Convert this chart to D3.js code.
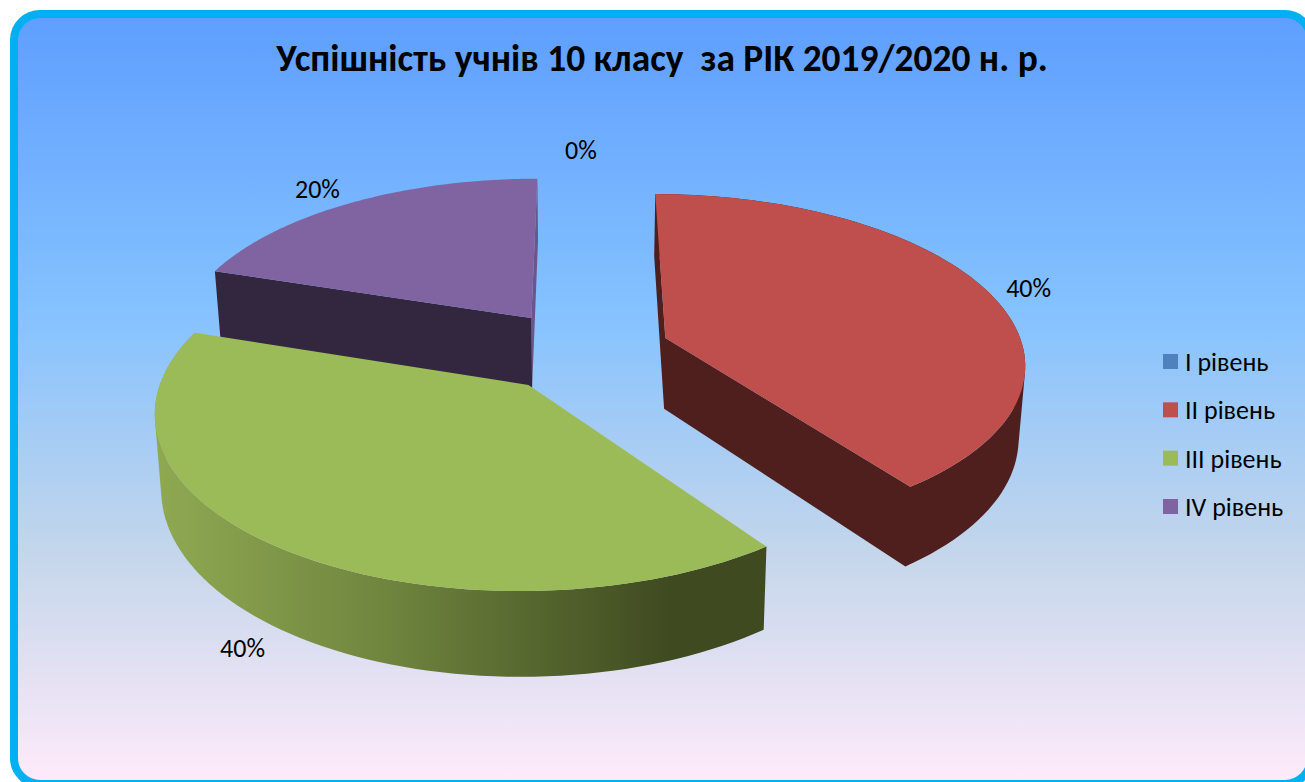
<!DOCTYPE html>
<html><head><meta charset="utf-8">
<script src="https://cdn.jsdelivr.net/npm/d3@7"></script>
<style>html,body{margin:0;padding:0;background:#fff;overflow:hidden}svg{display:block}text{white-space:pre}</style>
</head><body><svg id="c" width="1305" height="782"></svg>
<script>
const titleText = "Успішність учнів 10 класу  за РІК 2019/2020 н. р.";
const categories = ["I рівень","II рівень","III рівень","IV рівень"];
const values = [0,40,40,20];
const colors = ["#4f81bd","#be4f4c","#9bbb59","#8064a2"];
const sideColors = ["#2f4d71","#4f1f1e","#3f4a20","#33273f"];
const labelNudge = [[-1,-22],[43,-1],[-34,102],[-34,-13]];

// camera model of the tilted, exploded pie
const VX=582, VY=-855, K=1205.6, P=0.1386, A=358.5, DEPTH=71.5, SHRINK=0.015, EXPLODE=0.247;
const FONT="Carlito, Lato, 'Open Sans', sans-serif";

const svg=d3.select("#c");
const defs=svg.append("defs");
const bg=defs.append("linearGradient").attr("id","bg").attr("x1",0).attr("y1",0).attr("x2",0).attr("y2",1);
[[0,"#5e9eff"],[.39,"#85c2ff"],[.70,"#c4d6eb"],[1,"#ffebfa"]].forEach(([o,c])=>bg.append("stop").attr("offset",o).attr("stop-color",c));
const wall=defs.append("linearGradient").attr("id","greenWall").attr("gradientUnits","userSpaceOnUse")
  .attr("x1",157).attr("y1",0).attr("x2",670).attr("y2",0);
[[0,"#8fa952"],[.45,"#6f853e"],[1,"#3f4a20"]].forEach(([o,c])=>wall.append("stop").attr("offset",o).attr("stop-color",c));

svg.append("rect").attr("x",14).attr("y",14).attr("width",1297).attr("height",770).attr("rx",26)
  .attr("fill","url(#bg)").attr("stroke","#00b0f0").attr("stroke-width",8);

svg.append("text").attr("x",662).attr("y",71).attr("text-anchor","middle")
  .attr("font-family",FONT).attr("font-weight",700).attr("font-size",37.4).attr("fill","#000").text(titleText);

const pie=d3.pie().sort(null).value(d=>d)(values);
const total=d3.sum(values), pct=d3.format(".0%");

function world(a,r,mid){ // angle clockwise from the top
  return [EXPLODE*Math.sin(mid)+r*Math.sin(a), -EXPLODE*Math.cos(mid)-r*Math.cos(a)];
}
function top3d(a,r,mid){
  const [X,Y]=world(a,r,mid), w=1-P*Y;
  return [VX+A*X/w, VY+K/w];
}
function bottom3d(a,r,mid){
  const [X,Y]=world(a,r,mid), w=1-P*Y;
  return [VX+A*(1-SHRINK)*X/w, VY+K/w+DEPTH/w];
}
const line=d3.line();
const steps=a=>d3.range(0,81).map(i=>a.startAngle+(a.endAngle-a.startAngle)*i/80);
const wound=q=>d3.polygonArea(q)<0?q.slice().reverse():q; // same winding, so a joined path has no seams
const g=svg.append("g");

function drawSlice(s,i){
  if(!(s.endAngle>s.startAngle)) return;
  const mid=(s.startAngle+s.endAngle)/2, sg=g.append("g").attr("class","slice");
  const quad=a=>[top3d(a,0,mid),top3d(a,1,mid),bottom3d(a,1,mid),bottom3d(a,0,mid)];
  const as=steps(s);
  const pieces=[];
  if(i!==3) d3.pairs(as).forEach(([a,b])=>pieces.push([top3d(a,1,mid),top3d(b,1,mid),bottom3d(b,1,mid),bottom3d(a,1,mid)]));
  if(i!==2) pieces.push(quad(s.startAngle));
  if(i===1) pieces.push(quad(s.endAngle));
  if(i===3) sg.append("path").attr("d",line(wound(quad(s.endAngle)))+"Z").attr("fill","#6b5689");
  sg.append("path").attr("d",pieces.map(q=>line(wound(q))+"Z").join(""))
    .attr("fill",i===2?"url(#greenWall)":sideColors[i]);
  const face=[top3d(0,0,mid)].concat(as.map(a=>top3d(a,1,mid)));
  sg.append("path").attr("d",line(face)+"Z").attr("fill",colors[i]);
}
[3,0,1,2].forEach(i=>drawSlice(pie[i],i));

pie.forEach((s,i)=>{
  const mid=(s.startAngle+s.endAngle)/2, p=top3d(mid,1,mid);
  svg.append("text").attr("x",p[0]+labelNudge[i][0]).attr("y",p[1]+labelNudge[i][1]+8.5)
    .attr("text-anchor","middle").attr("font-family",FONT).attr("font-size",26).attr("fill","#000")
    .text(pct(values[i]/total));
});

const ly=d3.scalePoint().domain(categories).range([361.5,506.5]);
categories.forEach((c,i)=>{
  svg.append("rect").attr("x",1163).attr("y",ly(c)-7.5).attr("width",15).attr("height",15).attr("fill",colors[i]);
  svg.append("text").attr("x",1185).attr("y",ly(c)+9.5).attr("font-family",FONT).attr("font-size",26).attr("fill","#000").text(c);
});
</script></body></html>
